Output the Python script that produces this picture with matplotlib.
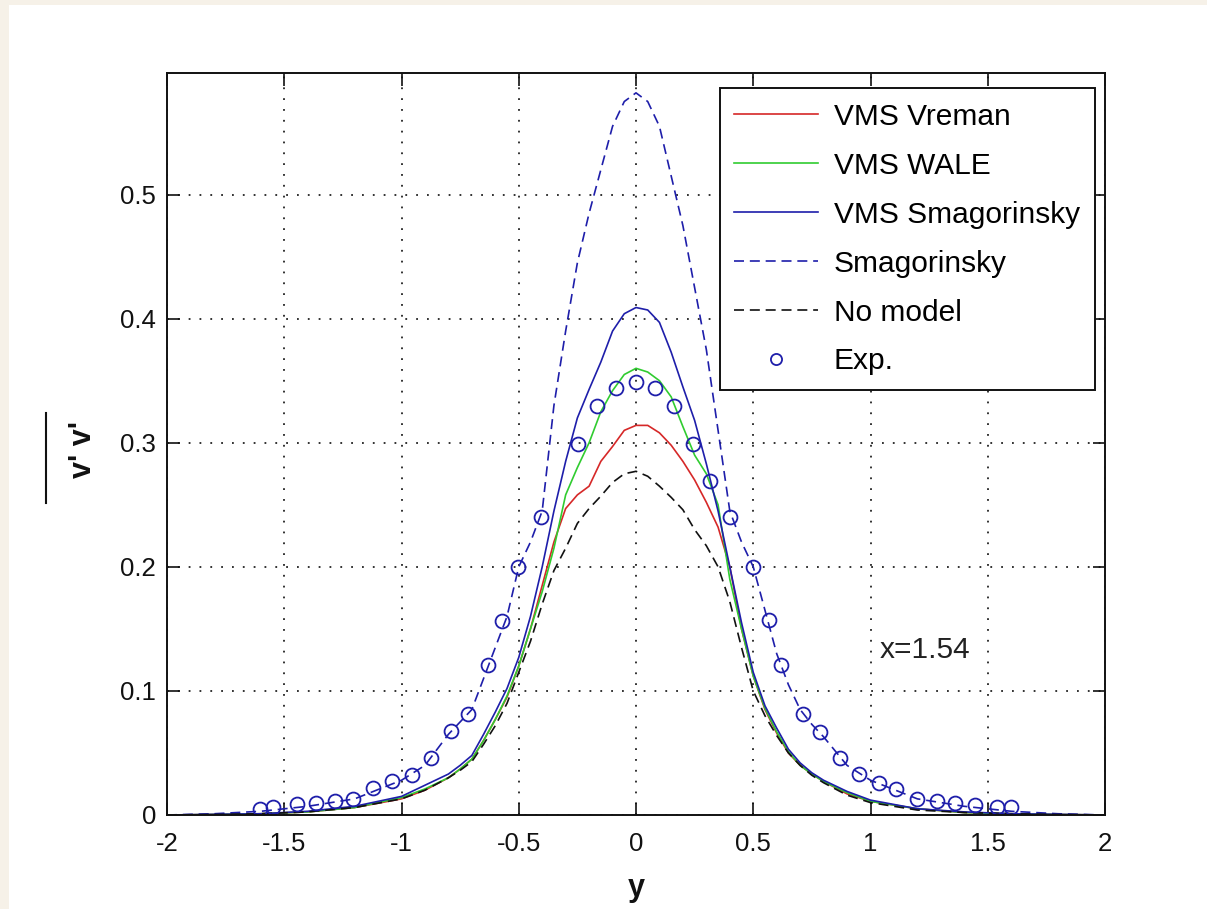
import matplotlib
matplotlib.use("Agg")
import matplotlib.pyplot as plt
from matplotlib.patches import Rectangle
from matplotlib.lines import Line2D

plt.rcParams['font.family'] = ['Liberation Sans', 'DejaVu Sans']
plt.rcParams['axes.unicode_minus'] = False

# common y grid for the simulation curves
y_pos = [-2.0, -1.8, -1.6, -1.4, -1.2, -1.0, -0.9, -0.8, -0.75, -0.7, -0.65, -0.6, -0.55, -0.5, -0.45,
         -0.4, -0.35, -0.3, -0.25, -0.2, -0.15, -0.1, -0.05, 0.0, 0.05, 0.1, 0.15, 0.2, 0.25, 0.3, 0.35,
         0.4, 0.45, 0.5, 0.55, 0.6, 0.65, 0.7, 0.75, 0.8, 0.9, 1.0, 1.2, 1.4, 1.6, 1.8, 2.0]

vms_vreman = [0.0, 0.0004, 0.001, 0.0025, 0.006, 0.013, 0.02, 0.03, 0.037, 0.045, 0.06, 0.077, 0.095, 0.12, 0.15,
              0.185, 0.22, 0.247, 0.258, 0.265, 0.285, 0.297, 0.31, 0.314, 0.314, 0.308, 0.298, 0.285, 0.27, 0.252, 0.232,
              0.2, 0.15, 0.112, 0.085, 0.066, 0.05, 0.04, 0.033, 0.027, 0.017, 0.011, 0.005, 0.002, 0.001, 0.0004, 0.0]
vms_wale = [0.0, 0.0004, 0.001, 0.0025, 0.006, 0.014, 0.021, 0.03, 0.037, 0.045, 0.06, 0.077, 0.096, 0.12, 0.15,
            0.18, 0.215, 0.258, 0.28, 0.30, 0.325, 0.342, 0.355, 0.36, 0.357, 0.35, 0.337, 0.313, 0.29, 0.275, 0.25,
            0.19, 0.15, 0.112, 0.086, 0.067, 0.051, 0.04, 0.033, 0.027, 0.018, 0.011, 0.005, 0.002, 0.001, 0.0004, 0.0]
vms_smag = [0.0, 0.0005, 0.001, 0.003, 0.007, 0.015, 0.024, 0.033, 0.04, 0.048, 0.065, 0.083, 0.102, 0.127, 0.16,
            0.2, 0.245, 0.285, 0.32, 0.343, 0.365, 0.39, 0.404, 0.409, 0.407, 0.397, 0.373, 0.345, 0.318, 0.283, 0.245,
            0.2, 0.155, 0.115, 0.088, 0.07, 0.053, 0.042, 0.034, 0.028, 0.019, 0.012, 0.005, 0.0025, 0.001, 0.0005, 0.0]
smagorinsky = [0.0, 0.001, 0.003, 0.007, 0.013, 0.028, 0.04, 0.065, 0.075, 0.085, 0.11, 0.135, 0.16, 0.2, 0.22,
               0.245, 0.33, 0.39, 0.445, 0.485, 0.52, 0.555, 0.575, 0.582, 0.575, 0.555, 0.515, 0.475, 0.425, 0.375, 0.31,
               0.245, 0.22, 0.2, 0.165, 0.13, 0.105, 0.085, 0.073, 0.063, 0.04, 0.028, 0.013, 0.007, 0.003, 0.001, 0.0]
no_model = [0.0, 0.0004, 0.001, 0.0025, 0.006, 0.013, 0.02, 0.03, 0.036, 0.043, 0.057, 0.072, 0.09, 0.115, 0.14,
            0.17, 0.197, 0.215, 0.235, 0.247, 0.257, 0.268, 0.275, 0.277, 0.273, 0.265, 0.256, 0.246, 0.23, 0.217, 0.2,
            0.172, 0.135, 0.10, 0.08, 0.064, 0.05, 0.04, 0.032, 0.026, 0.016, 0.01, 0.004, 0.002, 0.001, 0.0004, 0.0]

exp_y = [-1.603, -1.548, -1.446, -1.365, -1.284, -1.207, -1.122, -1.04, -0.955, -0.874, -0.789, -0.716, -0.631,
         -0.571, -0.503, -0.405, -0.247, -0.166, -0.085, 0.0, 0.081, 0.162, 0.243, 0.316, 0.401, 0.499, 0.567,
         0.618, 0.712, 0.785, 0.87, 0.951, 1.035, 1.11, 1.198, 1.284, 1.36, 1.446, 1.54, 1.6]
exp_vv = [0.0045, 0.0065, 0.0085, 0.0095, 0.011, 0.013, 0.022, 0.027, 0.032, 0.046, 0.068, 0.081, 0.121,
          0.156, 0.2, 0.24, 0.299, 0.33, 0.344, 0.349, 0.344, 0.33, 0.299, 0.269, 0.24, 0.2, 0.157,
          0.121, 0.081, 0.067, 0.046, 0.033, 0.026, 0.021, 0.013, 0.011, 0.0095, 0.008, 0.0067, 0.0063]

labels = ['VMS Vreman', 'VMS WALE', 'VMS Smagorinsky', 'Smagorinsky', 'No model', 'Exp.']
xticks = [-2, -1.5, -1, -0.5, 0, 0.5, 1, 1.5, 2]
xticklabels = ['-2', '-1.5', '-1', '-0.5', '0', '0.5', '1', '1.5', '2']
yticks = [0, 0.1, 0.2, 0.3, 0.4, 0.5]
yticklabels = ['0', '0.1', '0.2', '0.3', '0.4', '0.5']

W, H = 1207, 909
fig = plt.figure(figsize=(W / 100, H / 100), dpi=100, facecolor='#f6f1e8')
fig.add_artist(Rectangle((9 / W, 0), 1, 1 - 5 / H, transform=fig.transFigure,
                         facecolor='white', edgecolor='none', zorder=-10))

ax = fig.add_axes([167 / W, 1 - 815 / H, (1105 - 167) / W, (815 - 73) / H])

red = '#d62828'
green = '#30cc30'
blue = '#1e1eaa'
dash = (0, (6, 3.5))

ax.plot(y_pos, vms_vreman, color=red, lw=1.2, label=labels[0])
ax.plot(y_pos, vms_wale, color=green, lw=1.2, label=labels[1])
ax.plot(y_pos, vms_smag, color=blue, lw=1.2, label=labels[2])
ax.plot(y_pos, smagorinsky, color=blue, lw=1.2, ls=dash, label=labels[3])
ax.plot(y_pos, no_model, color='#111111', lw=1.2, ls=dash, label=labels[4])
ax.plot(exp_y, exp_vv, ls='none', marker='o', ms=10, mfc='none', mec=blue, mew=1.3, label=labels[5])

ax.set_xlim(-2, 2)
ax.set_ylim(0, 0.598)
ax.set_xticks(xticks)
ax.set_xticklabels(xticklabels)
ax.set_yticks(yticks)
ax.set_yticklabels(yticklabels)
ax.tick_params(direction='in', length=9, width=1.2, top=True, right=True,
               labelsize=18.5, colors='#111111')
ax.tick_params(axis='x', pad=12)
ax.tick_params(axis='y', pad=8)
ax.grid(True, color='#222222', ls=(0, (1, 5)), lw=1.3)
for s in ax.spines.values():
    s.set_linewidth(1.4)
    s.set_color('#111111')

ax.text(1.04, 0.133, 'x=1.54', fontsize=21.5, ha='left', va='center', color='#222222')

leg = ax.legend(loc='upper right', bbox_to_anchor=(0.9893, 0.9798), borderaxespad=0,
                fontsize=21.5, frameon=True, fancybox=False, framealpha=1,
                handlelength=2.8, handletextpad=0.53, labelspacing=0.7, borderpad=0.5)
leg.get_frame().set_edgecolor('#111111')
leg.get_frame().set_linewidth(1.4)
for h in leg.legend_handles:
    if h.get_marker() == 'o':
        h.set_markersize(8)

# y label: "v' v'" with an overline drawn separately
fig.text(83 / W, 1 - 450 / H, "v' v'", rotation=90, fontsize=22, fontweight='bold',
         ha='center', va='center', color='#111111')
fig.add_artist(Line2D([46 / W, 46 / W], [1 - 413 / H, 1 - 503 / H], color='#111111',
                      lw=1.5, transform=fig.transFigure))
fig.text(636 / W, 1 - 888 / H, 'y', fontsize=22, fontweight='bold',
         ha='center', va='center', color='#111111')

fig.savefig('out.png', dpi=100, facecolor=fig.get_facecolor())
